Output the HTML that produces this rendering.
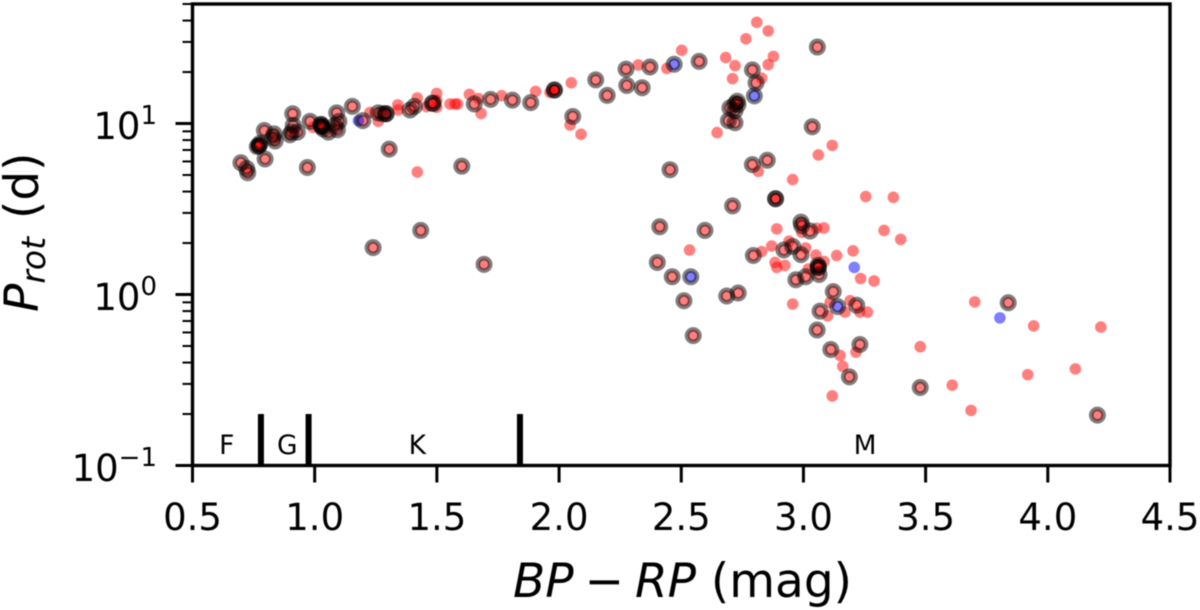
<!DOCTYPE html>
<html lang="en">
<head>
<meta charset="utf-8">
<title>Rotation period vs colour</title>
<style>
html,body{margin:0;padding:0;background:#fff;}
svg{display:block;font-family:"DejaVu Sans","Liberation Sans",sans-serif;fill:#000;filter:blur(0.45px);}
</style>
</head>
<body>
<svg id="chart" xmlns="http://www.w3.org/2000/svg" width="1200" height="610" viewBox="0 0 1200 610">
  <g id="marks"></g>
  <g id="spec"></g>
  <g id="axes"></g>
  <text x="513" y="597" font-size="47"><tspan font-style="italic">BP</tspan><tspan dx="11">−</tspan><tspan dx="11" font-style="italic">RP</tspan> (mag)</text>
  <text transform="translate(38,312) rotate(-90)" font-size="47"><tspan font-style="italic">P</tspan><tspan font-style="italic" font-size="33" dy="7">rot</tspan><tspan dy="-7" dx="3"> (d)</tspan></text>
</svg>
<script>
const redOnlyBP = [1.42,1.226,1.26,1.34,1.342,1.42,1.499,1.499,1.458,1.499,1.554,1.574,1.585,1.633,1.67,1.681,1.765,1.904,1.963,1.98,2.05,2.045,2.09,2.324,2.441,2.502,2.682,2.72,2.71,2.647,2.765,2.809,2.856,2.877,2.856,2.829,2.815,2.956,3.061,3.118,3.255,3.368,3.33,3.398,2.891,3.054,3.084,2.993,2.534,2.829,2.87,2.941,3.009,3.051,3.136,3.203,3.084,2.884,2.891,2.924,3.02,3.234,3.289,2.956,3.109,3.191,3.17,3.231,3.262,3.099,3.215,3.15,3.161,3.118,3.478,3.701,3.942,4.217,3.609,3.686,3.918,4.113,0.993];
const redOnlyP = [5.2,11.6,10.3,12.85,12,14.1,15,12.45,12.55,13.65,13,13,13,14.8,14,11.45,14.55,15.4,15.2,15.7,17.3,9.8,8.65,22,21,26.8,24.3,21.8,18.3,8.85,31.3,39.1,34.8,24.7,22.1,18.4,5.25,4.7,6.55,7.45,3.74,3.7,2.37,2.1,2.42,2.44,2.45,2.31,1.82,1.78,1.92,2.05,1.87,1.7,1.69,1.8,1.56,1.54,1.44,1.48,1.41,1.24,1.2,0.88,0.9,0.92,0.79,0.79,0.788,0.75,0.46,0.44,0.38,0.255,0.495,0.905,0.655,0.645,0.295,0.21,0.34,0.367,9.5];
const ringedBP = [0.698,0.726,0.722,0.797,0.772,0.765,0.776,0.794,0.834,0.838,0.829,0.91,0.899,0.912,0.929,0.906,0.97,0.981,1.029,1.035,1.026,1.056,1.09,1.099,1.093,1.083,1.154,1.197,1.26,1.28,1.292,1.305,1.39,1.408,1.434,1.481,1.485,1.602,1.653,1.72,1.809,1.884,1.981,2.15,2.197,2.274,2.277,2.34,2.372,2.573,2.056,2.729,2.72,2.699,2.72,2.693,2.72,2.732,2.791,2.806,3.057,3.036,2.791,2.852,2.454,2.886,2.71,2.99,3.027,2.412,2.597,2.402,2.463,2.511,2.549,2.686,2.733,2.795,2.92,2.956,2.99,3.061,3.06,3.064,3.009,2.969,3.122,3.218,3.068,3.056,3.112,3.231,3.188,3.838,3.478,4.203,2.993,1.239,1.693];
const ringedP = [5.9,5.15,5.46,6.2,7.43,7.33,7.65,9.1,8.7,7.9,8.3,11.4,8.6,9.75,8.9,8.9,5.53,10.3,9.6,9.3,9.87,8.9,11.55,10.3,9.2,9.75,12.6,10.4,11.55,11.4,11.4,7.08,12,12.6,2.37,13.15,13.1,5.63,13,13.85,13.7,13.25,15.7,18,14.6,20.8,16.7,16.2,21.4,23.1,11,13.5,13,12.35,11.9,10.4,10.1,12.9,20.6,17.3,28,9.57,5.75,6.1,5.37,3.63,3.3,2.65,2.35,2.49,2.37,1.54,1.27,0.92,0.575,0.98,1.02,1.69,1.82,1.91,1.71,1.44,1.48,1.31,1.27,1.22,1.04,0.866,0.8,0.62,0.477,0.51,0.33,0.895,0.286,0.197,2.53,1.88,1.5];
const doubledRedBP = [1.981,2.886,0.772,1.029,1.026,1.292,3.061];
const doubledRedP = [15.7,3.63,7.43,9.6,9.87,11.4,1.44];
const blueOnlyBP = [3.804,3.208,1.179];
const blueOnlyP = [0.73,1.44,10.4];
const blueRingedBP = [2.471,2.799,2.539,3.14];
const blueRingedP = [22.2,14.5,1.27,0.85];
const xTicks = [0.5,1.0,1.5,2.0,2.5,3.0,3.5,4.0,4.5];
const xTickLabels = ["0.5","1.0","1.5","2.0","2.5","3.0","3.5","4.0","4.5"];
const yDecades = [0.1,1,10];
const yDecadeExponents = ["−1","0","1"];
const yMinorMultipliers = [2,3,4,5,6,7,8,9];
const specBoundaries = [0.78,0.975,1.84];
const specBoundaryTop = 0.2;
const specLabels = ["F","G","K","M"];
const specLabelBP = [0.64,0.888,1.42,3.252];
const xMin = 0.5, xMax = 4.5, yMin = 0.1, yMax = 50;

const PL = 192.5, PR = 1170, PT = 4, PB = 465.5;
function xs(v){ return PL + (v - xMin) / (xMax - xMin) * (PR - PL); }
function ys(v){ return PB - (Math.log10(v) - Math.log10(yMin)) / (Math.log10(yMax) - Math.log10(yMin)) * (PB - PT); }
const NS = 'http://www.w3.org/2000/svg';
function mk(parent, tag, props){
  const el = document.createElementNS(NS, tag);
  for (const k in props) el.setAttribute(k, props[k]);
  parent.appendChild(el);
  return el;
}
const marks = document.getElementById('marks');
const axes = document.getElementById('axes');
const spec = document.getElementById('spec');

function dot(bp, p, color, name){
  const el = mk(marks, 'circle', {cx: xs(bp), cy: ys(p), r: 5.8, fill: color, 'fill-opacity': 0.5});
  
  
}
function ring(bp, p){
  const el = mk(marks, 'circle', {cx: xs(bp), cy: ys(p), r: 6.2, fill: 'none', stroke: '#000', 'stroke-width': 4.6, 'stroke-opacity': 0.5});
  
  
}
redOnlyBP.forEach((b, i) => dot(b, redOnlyP[i], '#f00', 'red-point'));
ringedBP.forEach((b, i) => dot(b, ringedP[i], '#f00', 'red-point'));
doubledRedBP.forEach((b, i) => dot(b, doubledRedP[i], '#f00', 'red-point'));
blueOnlyBP.forEach((b, i) => dot(b, blueOnlyP[i], '#00f', 'blue-point'));
blueRingedBP.forEach((b, i) => dot(b, blueRingedP[i], '#00f', 'blue-point'));
ringedBP.forEach((b, i) => ring(b, ringedP[i]));
doubledRedBP.forEach((b, i) => ring(b, doubledRedP[i]));
blueRingedBP.forEach((b, i) => ring(b, blueRingedP[i]));

specBoundaries.forEach((b) => {
  const el = mk(spec, 'line', {x1: xs(b), x2: xs(b), y1: ys(specBoundaryTop), y2: PB, stroke: '#000', 'stroke-width': 6});
  
  
});
specLabels.forEach((t, i) => {
  const el = mk(spec, 'text', {x: xs(specLabelBP[i]), y: 454, 'font-size': 26.5, 'text-anchor': 'middle'});
  el.textContent = t;
  
  
});

const frame = mk(axes, 'rect', {x: PL, y: PT, width: PR - PL, height: PB - PT, fill: 'none', stroke: '#000', 'stroke-width': 3.4});



xTicks.forEach((v, i) => {
  const t = mk(axes, 'line', {x1: xs(v), x2: xs(v), y1: PB, y2: PB + 17, stroke: '#000', 'stroke-width': 3});
  
  
  const l = mk(axes, 'text', {x: xs(v), y: 530, 'font-size': 37, 'text-anchor': 'middle'});
  l.textContent = xTickLabels[i];
  
  
});
yDecades.forEach((v, i) => {
  const t = mk(axes, 'line', {x1: PL - 17, x2: PL, y1: ys(v), y2: ys(v), stroke: '#000', 'stroke-width': 3});
  
  
  const base = ys(v) + 15.5;
  const l = mk(axes, 'text', {x: 157, y: base, 'font-size': 37, 'text-anchor': 'end'});
  const a = mk(l, 'tspan', {});
  a.textContent = '10';
  const b = mk(l, 'tspan', {'font-size': 26, dy: -15});
  b.textContent = yDecadeExponents[i];
  
  
  yMinorMultipliers.forEach((m) => {
    const val = v * m;
    if (val > yMax) return;
    const mt = mk(axes, 'line', {x1: PL - 10, x2: PL, y1: ys(val), y2: ys(val), stroke: '#000', 'stroke-width': 2});
    
    
  });
});
</script>
</body>
</html>
